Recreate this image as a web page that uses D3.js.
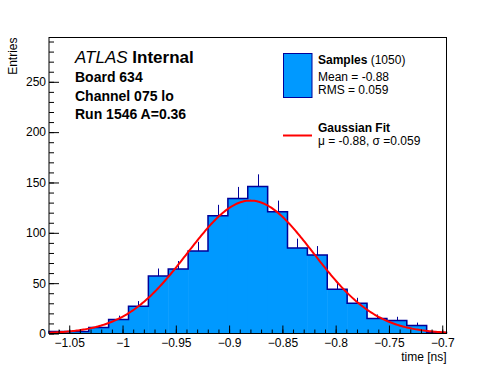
<!DOCTYPE html>
<html>
<head>
<meta charset="utf-8">
<script src="https://cdn.jsdelivr.net/npm/d3@7"></script>
<style>
  body { margin: 0; background: #fff; }
  svg { display: block; font-family: "Liberation Sans", Arial, sans-serif; }
</style>
</head>
<body>
<svg id="chart"></svg>
<script>
const width = 496;
const height = 372;
const margin = {left: 49, right: 49.5, top: 37.5, bottom: 38.5};

// histogram: 20 equal bins over the x range
const xRange = [-1.069, -0.696];
const counts = [2, 2, 6, 14, 27, 57, 64, 82, 117, 134, 146, 121, 85, 78, 44, 30, 15, 13, 8, 1];

const xTicks = [-1.05, -1, -0.95, -0.9, -0.85, -0.8, -0.75, -0.7];
const xTickLabels = ["\u22121.05", "\u22121", "\u22120.95", "\u22120.9", "\u22120.85", "\u22120.8", "\u22120.75", "\u22120.7"];
const yTicks = [0, 50, 100, 150, 200, 250];
const yMax = 294;

// Gaussian fit parameters
const fitMean = -0.88;
const fitSigma = 0.059;
const fitAmp = 132;

const svg = d3.select("#chart").attr("width", width).attr("height", height);

const x = d3.scaleLinear().domain(xRange).range([margin.left, width - margin.right]);
const y = d3.scaleLinear().domain([0, yMax]).range([height - margin.bottom, margin.top]);

const binW = (xRange[1] - xRange[0]) / counts.length;
const bins = counts.map((c, i) => ({x0: xRange[0] + i * binW, x1: xRange[0] + (i + 1) * binW, n: c}));

// filled bars
svg.append("g").selectAll("rect")
  .data(bins)
  .enter()
  .append("rect")
  .attr("x", d => x(d.x0))
  .attr("width", d => x(d.x1) - x(d.x0) + 0.5)
  .attr("y", d => y(d.n))
  .attr("height", d => y(0) - y(d.n))
  .attr("fill", "#0099ff");

// step outline
let pts = [[xRange[0], 0]];
bins.forEach(d => { pts.push([d.x0, d.n]); pts.push([d.x1, d.n]); });
pts.push([xRange[1], 0]);
svg.append("path")
  .attr("d", d3.line().x(p => x(p[0])).y(p => y(p[1]))(pts))
  .attr("fill", "none")
  .attr("stroke", "#000099")
  .attr("stroke-width", 1.5);

// error bars (upper half only visible)
svg.append("g").selectAll("line")
  .data(bins)
  .enter()
  .append("line")
  .attr("x1", d => Math.round(x((d.x0 + d.x1) / 2)) + 0.5)
  .attr("x2", d => Math.round(x((d.x0 + d.x1) / 2)) + 0.5)
  .attr("y1", d => y(d.n))
  .attr("y2", d => y(d.n + Math.sqrt(d.n)))
  .attr("stroke", "#000099")
  .attr("stroke-width", 1);

// gaussian fit curve
const fitX = d3.range(0, 301).map(i => xRange[0] + (xRange[1] - xRange[0]) * i / 300);
const gauss = v => fitAmp * Math.exp(-0.5 * Math.pow((v - fitMean) / fitSigma, 2));
svg.append("path")
  .attr("d", d3.line().x(v => x(v)).y(v => y(gauss(v)))(fitX))
  .attr("fill", "none")
  .attr("stroke", "#ff0000")
  .attr("stroke-width", 2);

// frame
svg.append("rect")
  .attr("x", margin.left)
  .attr("y", margin.top)
  .attr("width", width - margin.left - margin.right)
  .attr("height", height - margin.top - margin.bottom)
  .attr("fill", "none")
  .attr("stroke", "#000")
  .attr("stroke-width", 1);

// axes
const xMinor = d3.range(-1.06, -0.695, 0.01);
const yMinor = d3.range(0, yMax, 10);

const xAxis = d3.axisBottom(x).tickValues(xTicks)
  .tickFormat((d, i) => xTickLabels[i])
  .tickSizeInner(-8).tickSizeOuter(0).tickPadding(4.5);
svg.append("g").attr("transform", "translate(0," + y(0) + ")").call(xAxis);
svg.append("g").attr("transform", "translate(0," + y(0) + ")")
  .call(d3.axisBottom(x).tickValues(xMinor).tickFormat("").tickSizeInner(-4).tickSizeOuter(0));

const yAxis = d3.axisLeft(y).tickValues(yTicks).tickSizeInner(-10).tickSizeOuter(0).tickPadding(3);
svg.append("g").attr("transform", "translate(" + x(xRange[0]) + ",0)").call(yAxis);
svg.append("g").attr("transform", "translate(" + x(xRange[0]) + ",0)")
  .call(d3.axisLeft(y).tickValues(yMinor).tickFormat("").tickSizeInner(-5).tickSizeOuter(0));

svg.selectAll(".domain").remove();
svg.selectAll(".tick text").attr("font-size", 12).attr("font-family", "Liberation Sans, Arial, sans-serif").attr("fill", "#000");

svg.append("text")
  .attr("x", width - margin.right)
  .attr("y", 361)
  .attr("text-anchor", "end")
  .attr("font-size", 12)
  .text("time [ns]");

svg.append("text")
  .attr("transform", "translate(17," + margin.top + ") rotate(-90)")
  .attr("text-anchor", "end")
  .attr("font-size", 12)
  .text("Entries");

// ATLAS labels
const lab = svg.append("text").attr("x", 75).attr("y", 63).attr("font-size", 17);
lab.append("tspan").attr("font-style", "italic").text("ATLAS");
lab.append("tspan").attr("font-weight", "bold").text(" Internal");

const info = ["Board 634", "Channel 075 lo", "Run 1546 A=0.36"];
svg.append("g").selectAll("text")
  .data(info)
  .enter()
  .append("text")
  .attr("x", 75)
  .attr("y", (d, i) => 82 + i * 18.5)
  .attr("font-size", 14)
  .attr("font-weight", "bold")
  .text(d => d);

// legend
svg.append("rect")
  .attr("x", 283.5).attr("y", 53.5).attr("width", 28.5).attr("height", 44)
  .attr("fill", "#0099ff").attr("stroke", "#000099").attr("stroke-width", 1);

const l1 = svg.append("text").attr("x", 318).attr("y", 64).attr("font-size", 12);
l1.append("tspan").attr("font-weight", "bold").text("Samples");
l1.append("tspan").text(" (1050)");
svg.append("text").attr("x", 318).attr("y", 81).attr("font-size", 12).text("Mean = -0.88");
svg.append("text").attr("x", 318).attr("y", 94).attr("font-size", 12).text("RMS = 0.059");

svg.append("line")
  .attr("x1", 283).attr("x2", 312).attr("y1", 135.5).attr("y2", 135.5)
  .attr("stroke", "#ff0000").attr("stroke-width", 2);
svg.append("text").attr("x", 318).attr("y", 132).attr("font-size", 12).attr("font-weight", "bold").text("Gaussian Fit");
svg.append("text").attr("x", 318).attr("y", 145).attr("font-size", 12).text("\u03bc = -0.88, \u03c3 =0.059");
</script>
</body>
</html>
